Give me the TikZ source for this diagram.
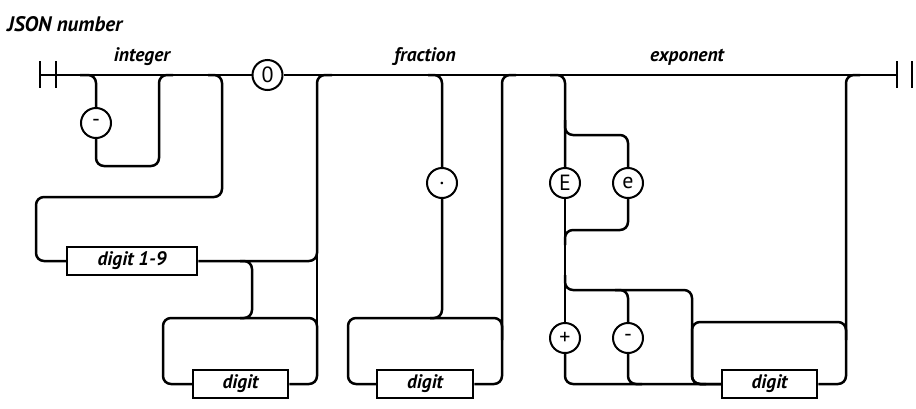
\documentclass[tikz,border=0pt]{standalone}
\usepackage{fontspec}
\setmainfont{PT Sans}
\newfontfamily\lblfont{PT Sans}
\begin{document}
\begin{tikzpicture}[x=1pt,y=-1pt,
  ln/.style={line width=2.5pt, rounded corners=8pt},
  circ/.style={circle, draw, fill=white, line width=2pt, minimum size=30pt, inner sep=0pt, font=\fontsize{22}{22}\selectfont},
  ntbox/.style={draw, fill=white, line width=2.5pt, minimum height=28pt, inner sep=0pt, font=\lblfont\bfseries\itshape\fontsize{19.5}{19.5}\selectfont},
  sect/.style={font=\lblfont\bfseries\itshape\fontsize{19.5}{19.5}\selectfont, inner sep=0pt}]
\useasboundingbox (0,0) rectangle (916,408);
\node[font=\lblfont\bfseries\itshape\fontsize{21}{21}\selectfont, inner sep=0pt, anchor=west] (title) at (7,24) {JSON number};
\node[sect] (lint) at (142,57) {integer};
\node[sect] (lfrac) at (425,57) {fraction};
\node[sect] (lexp) at (687,57) {exponent};
% terminals
\node[circ] (minusA) at (96,123) {-};
\node[circ] (zero) at (267.5,75) {0};
\node[circ] (dot) at (442,183) {.};
\node[circ] (E) at (565,183) {E};
\node[circ] (e) at (628,183) {e};
\node[circ] (plus) at (565,338) {+};
\node[circ] (minusB) at (628,338) {-};
% nonterminals
\node[ntbox, minimum width=130pt] (d19) at (132,261) {digit 1-9};
\node[ntbox, minimum width=95pt] (digA) at (240.5,384) {digit};
\node[ntbox, minimum width=96pt] (digB) at (425,384) {digit};
\node[ntbox, minimum width=95pt] (digC) at (769.5,384) {digit};
% ends
\coordinate (start) at (40,75);
\coordinate (finish) at (897,75);
\draw[line width=2.5pt] (40,61) -- (40,88) (56,61) -- (56,88);
\draw[line width=2.5pt] (897,61) -- (897,88) (912,61) -- (912,88);
% main line
\draw[ln] (start) -- (zero) -- (finish);
% integer: optional minus
\draw[ln] (80,75) -| (minusA.north);
\draw[ln] (minusA.south) |- (159,166) |- (173,75);
% integer: digit 1-9 path
\draw[ln] (208,75) -| (222,197) -| (36,261) -- (d19.west);
\draw[ln] (d19.east) -| (317,75) -- (332,75);
\draw[line width=2.5pt] (317,250) -- (317,330);
\draw[ln] (240,261) -| (252,318) -- (240,318);
\draw[ln] (digA.east) -| (317,318) -| (163,384) -- (digA.west);
% fraction
\draw[ln] (428,75) -| (dot.north);
\draw[ln] (dot.south) |- (430,318);
\draw[ln] (digB.east) -| (502,318) -| (348,384) -- (digB.west);
\draw[ln] (502,340) |- (516,75);
% exponent
\draw[ln] (550,75) -| (E.north);
\draw[ln] (565,120) |- (628,135) -- (e.north);
\draw[ln] (e.south) |- (565,230) -- (565,245);
\draw[line width=2.5pt] (E) -- (plus);
\draw[ln] (565,275) |- (692,290) -- (692,384) -- (706,384);
\draw[ln] (615,290) -| (minusB.north);
\draw[ln] (plus.south) |- (digC.west);
\draw[ln] (minusB.south) |- (642,384);
\draw[ln] (digC.east) -| (846,322) -| (692,384) -- (digC.west);
\draw[ln] (846,340) |- (860,75);
\end{tikzpicture}
\end{document}
